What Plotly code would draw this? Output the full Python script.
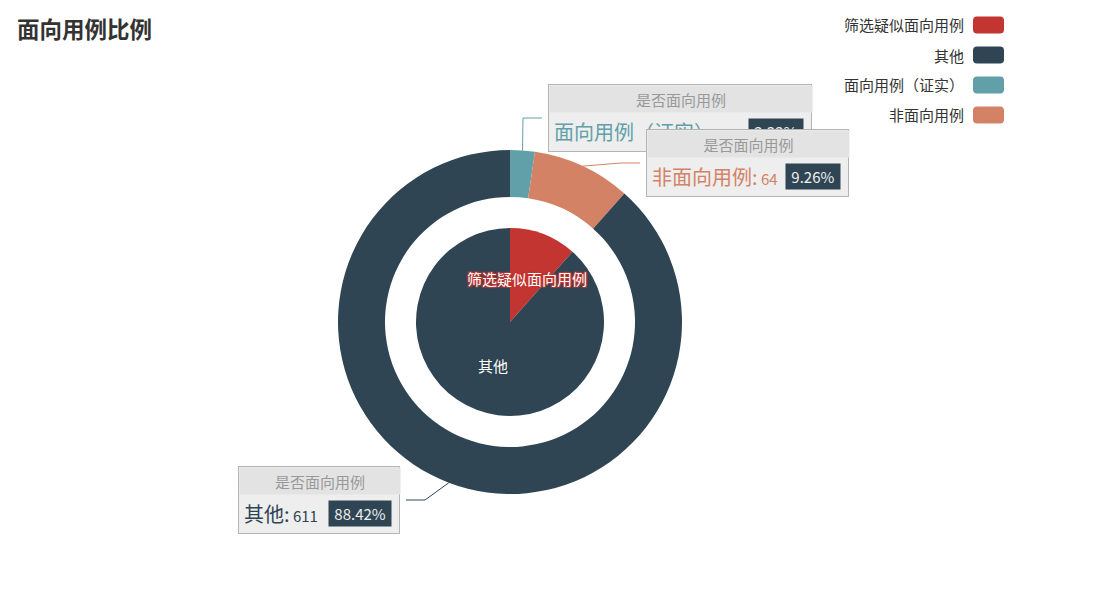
import math
import plotly.graph_objects as go

# ---------------- data ----------------
inner_labels = ["筛选疑似面向用例", "其他"]
inner_values = [80, 611]
outer_labels = ["面向用例（证实）", "非面向用例", "其他"]
outer_values = [16, 64, 611]
series_name = "是否面向用例"
title_text = "面向用例比例"
legend_labels = ["筛选疑似面向用例", "其他", "面向用例（证实）", "非面向用例"]

# ---------------- style / layout ----------------
W, H = 1112, 600
CX, CY = 510, 322
R_OUT, R_HOLE, R_IN = 172, 125, 94
FONT = "Noto Sans CJK SC, Noto Sans, sans-serif"
colors = {
    "筛选疑似面向用例": "#c23531",
    "其他": "#2f4554",
    "面向用例（证实）": "#61a0a8",
    "非面向用例": "#d48265",
}
BADGE = "#2f4554"

# label layout for outer ring labels: elbow point, side, box width
label_layout = {
    "面向用例（证实）": dict(elbow=(523, 118), side=1, box_w=264),
    "非面向用例": dict(elbow=(621, 163), side=1, box_w=203),
    "其他": dict(elbow=(425, 500), side=-1, box_w=162),
}
LEN2 = 19
GAP = 6
HEAD_H, BODY_H = 27, 41


def px(x):
    return x / W


def py(y):
    return 1 - y / H


def domain(r):
    return dict(x=[px(CX - r), px(CX + r)], y=[py(CY + r), py(CY - r)])


def rounded(x0, y0, x1, y1, r):
    return (f"M {px(x0 + r)} {py(y0)} L {px(x1 - r)} {py(y0)} "
            f"Q {px(x1)} {py(y0)} {px(x1)} {py(y0 + r)} L {px(x1)} {py(y1 - r)} "
            f"Q {px(x1)} {py(y1)} {px(x1 - r)} {py(y1)} L {px(x0 + r)} {py(y1)} "
            f"Q {px(x0)} {py(y1)} {px(x0)} {py(y1 - r)} L {px(x0)} {py(y0 + r)} "
            f"Q {px(x0)} {py(y0)} {px(x0 + r)} {py(y0)} Z")


fig = go.Figure()
fig.add_trace(go.Pie(
    labels=inner_labels, values=inner_values, sort=False, direction="clockwise",
    rotation=0, domain=domain(R_IN), textinfo="none", hoverinfo="label+value+percent",
    marker=dict(colors=[colors[l] for l in inner_labels], line=dict(width=0)),
    showlegend=False, name=series_name,
))
fig.add_trace(go.Pie(
    labels=outer_labels, values=outer_values, sort=False, direction="clockwise",
    rotation=0, hole=R_HOLE / R_OUT, domain=domain(R_OUT), textinfo="none",
    hoverinfo="label+value+percent",
    marker=dict(colors=[colors[l] for l in outer_labels], line=dict(width=0)),
    showlegend=False, name=series_name,
))

annotations = []
shapes = []

# title
annotations.append(dict(
    x=px(15), y=py(28), xref="paper", yref="paper", xanchor="left", yanchor="middle",
    text=f"<b>{title_text}</b>", showarrow=False,
    font=dict(family=FONT, size=22.5, color="#333333"),
))

# inner labels at half radius, mid angle
tot_in = sum(inner_values)
cum = 0
for lab, v in zip(inner_labels, inner_values):
    mid = (cum + v / 2) / tot_in * 2 * math.pi
    cum += v
    lx = CX + R_IN / 2 * math.sin(mid)
    ly = CY - R_IN / 2 * math.cos(mid)
    c = colors[lab]
    annotations.append(dict(
        x=px(lx), y=py(ly), xref="paper", yref="paper", xanchor="center", yanchor="middle",
        text=lab, showarrow=False,
        font=dict(family=FONT, size=15, color="#ffffff",
                  shadow=f"1px 1px 1px {c}, -1px -1px 1px {c}, 1px -1px 1px {c}, -1px 1px 1px {c}"),
    ))

# outer labels with leader lines and rich boxes
tot_out = sum(outer_values)
cum = 0
for lab, v in zip(outer_labels, outer_values):
    mid = (cum + v / 2) / tot_out * 2 * math.pi
    cum += v
    sx = CX + R_OUT * math.sin(mid)
    sy = CY - R_OUT * math.cos(mid)
    L = label_layout[lab]
    exl, eyl = L["elbow"]
    side = L["side"]
    endx = exl + side * LEN2
    c = colors[lab]
    shapes.append(dict(
        type="path", xref="paper", yref="paper",
        path=f"M {px(sx)} {py(sy)} L {px(exl)} {py(eyl)} L {px(endx)} {py(eyl)}",
        line=dict(color=c, width=1),
    ))
    bw = L["box_w"]
    bh = HEAD_H + BODY_H
    left = endx + GAP if side > 0 else endx - GAP - bw
    top = eyl - bh / 2
    # box body
    annotations.append(dict(
        x=px(left), y=py(top), xref="paper", yref="paper", xanchor="left", yanchor="top",
        text=" ", showarrow=False, width=bw - 2, height=bh - 2, borderpad=0,
        bgcolor="#eeeeee", bordercolor="#b4b4b4", borderwidth=1,
    ))
    # header
    annotations.append(dict(
        x=px(left + 1), y=py(top + 1), xref="paper", yref="paper", xanchor="left",
        yanchor="top", text=series_name, showarrow=False, width=bw - 2, height=HEAD_H - 1,
        borderpad=0, bgcolor="#e3e3e3", align="center", valign="middle",
        font=dict(family=FONT, size=15, color="#999999"),
    ))
    body_cy = top + HEAD_H + BODY_H / 2
    annotations.append(dict(
        x=px(left + 4), y=py(body_cy), xref="paper", yref="paper", xanchor="left",
        yanchor="middle", showarrow=False,
        text=f'<span style="font-size:20px">{lab}:</span> {v}',
        font=dict(family=FONT, size=15, color=c),
    ))
    pct = v / tot_out * 100
    annotations.append(dict(
        x=px(left + bw - 8), y=py(body_cy), xref="paper", yref="paper", xanchor="right",
        yanchor="middle", showarrow=False, text=f"&nbsp;{pct:.2f}%&nbsp;",
        bgcolor=BADGE, borderpad=2,
        font=dict(family=FONT, size=15, color="#eeeeee"),
    ))

# custom legend (text left of rounded swatch)
LEG_TEXT_R, LEG_SW_X, LEG_SW_W, LEG_SW_H = 966, 973, 31, 17
LEG_Y0, LEG_DY = 25, 30
for i, lab in enumerate(legend_labels):
    yc = LEG_Y0 + i * LEG_DY
    annotations.append(dict(
        x=px(LEG_TEXT_R), y=py(yc), xref="paper", yref="paper", xanchor="right",
        yanchor="middle", text=lab, showarrow=False,
        font=dict(family=FONT, size=15, color="#333333"),
    ))
    x0, x1 = LEG_SW_X, LEG_SW_X + LEG_SW_W
    y0, y1 = yc - LEG_SW_H / 2, yc + LEG_SW_H / 2
    shapes.append(dict(type="path", xref="paper", yref="paper",
                       path=rounded(x0, y0, x1, y1, 4),
                       fillcolor=colors[lab], line=dict(width=0)))

fig.update_layout(
    width=W, height=H, margin=dict(l=0, r=0, t=0, b=0),
    paper_bgcolor="#ffffff", plot_bgcolor="#ffffff",
    showlegend=False, annotations=annotations, shapes=shapes,
    font=dict(family=FONT),
)

fig.write_html("out.html")
